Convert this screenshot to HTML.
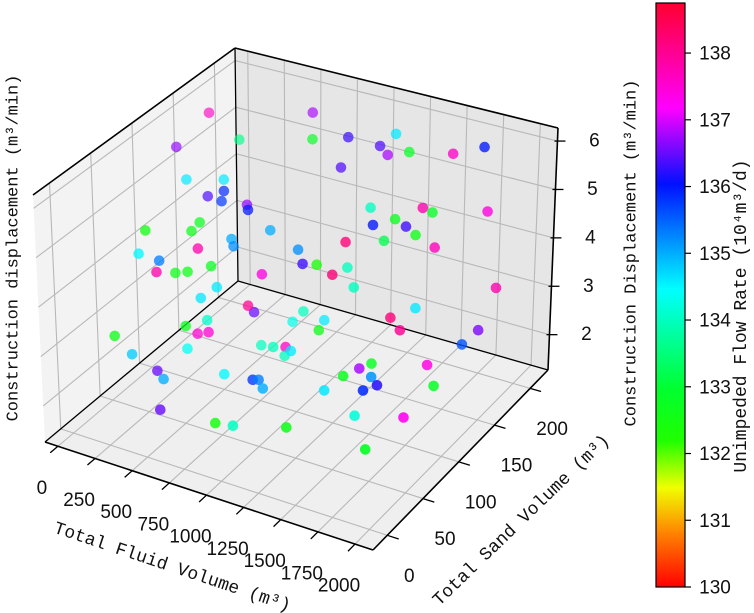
<!DOCTYPE html>
<html><head><meta charset="utf-8">
<style>
html,body{margin:0;padding:0;background:#fff;}
#wrap{width:754px;height:613px;position:relative;overflow:hidden;}
svg text{font-family:"Liberation Sans",sans-serif;}
.mono{font-family:"Liberation Mono",monospace !important;}
</style></head>
<body>
<div id="wrap">
<svg id="chart" width="754" height="613" viewBox="0 0 754 613">
<defs>
<linearGradient id="cbgrad" x1="0" y1="1" x2="0" y2="0">
<stop offset="0" stop-color="#ff0000"/>
<stop offset="0.09" stop-color="#ff8000"/>
<stop offset="0.17" stop-color="#f0ff00"/>
<stop offset="0.25" stop-color="#20ff00"/>
<stop offset="0.34" stop-color="#00ff30"/>
<stop offset="0.51" stop-color="#00ffff"/>
<stop offset="0.69" stop-color="#0010ff"/>
<stop offset="0.82" stop-color="#ff00ff"/>
<stop offset="1" stop-color="#ff0030"/>
</linearGradient>
</defs>
<g id="panes"></g><g id="grid"></g><g id="edges"></g><g id="ticks"></g><g id="points"></g><g id="labels"></g><g id="cbar"></g>
</svg>
</div>
<script>
// ---- data ----
const fluidVolume = [63,620,266,699,915,94,957,213,306,333,317,355,500,533,1258,379,264,377,721,1317,242,456,1220,549,589,935,324,304,366,410,478,1028,1061,1229,1207,1313,752,514,469,591,567,774,509,427,306,452,699,856,1013,145,615,761,783,946,840,370,193,291,403,684,814,918,946,1481,1498,1432,1364,1567,505,1562,1662,876,995,1295,1631,1869,1827,1187,1105,1194,1304,1576,1752,1525,1591,1845,1399,1474,1540,1392,1651,1918,1503,1569,1547,1863,1812,1759,1865];
const sandVolume = [166,193,166,178,183,120,166,110,139,134,117,127,132,127,147,95,49,85,120,139,44,78,122,103,98,115,54,54,66,73,90,103,115,103,127,115,103,90,78,115,127,152,78,66,103,90,152,164,127,29,127,115,127,103,115,78,41,54,41,66,78,66,66,90,103,78,66,78,17,90,78,17,17,29,54,73,29,193,188,181,188,193,200,164,164,188,152,152,152,139,156,188,127,127,152,176,164,127,115];
const displacement = [5.77,5.87,5.37,5.57,5.72,5.67,5.35,5.22,4.92,4.77,4.87,4.67,4.65,4.64,5.02,4.67,5.0,4.62,4.47,4.82,4.57,4.42,4.62,4.37,4.32,4.32,4.37,4.12,4.0,3.97,3.92,4.27,4.12,4.22,4.02,3.87,3.82,3.52,3.42,2.87,2.55,2.4,3.0,2.97,2.2,2.54,2.12,2.12,2.57,3.0,1.91,2.17,2.02,2.42,2.06,2.29,2.51,2.09,2.2,2.22,2.06,2.32,2.17,2.72,2.65,2.69,2.51,2.52,2.0,2.62,2.71,2.08,2.14,2.22,2.41,2.32,2.27,5.87,5.62,5.6,5.65,5.76,5.94,5.0,4.96,4.85,4.83,4.74,4.62,4.56,4.4,3.34,3.25,3.05,3.13,2.6,2.44,2.51,2.35];
const flowRate = [137.6,136.8,133.6,132.8,136.3,136.7,136.4,134.6,134.6,135.9,136.4,135.8,136.7,136.0,134.0,132.7,132.5,132.6,135.0,136.0,134.5,137.8,138.2,135.0,135.2,135.2,135.3,137.8,132.6,132.6,132.7,136.3,132.3,138.2,134.0,134.0,137.4,134.6,134.6,138.0,136.5,134.0,134.1,132.7,137.5,137.5,134.3,134.6,132.6,132.6,134.0,134.0,137.6,134.6,134.0,134.4,134.8,136.5,135.0,134.5,135.8,135.3,135.0,136.8,132.8,132.7,134.6,135.9,136.5,135.2,136.2,132.4,134.0,132.6,134.2,137.3,132.8,134.6,136.4,136.8,132.8,137.6,136.0,137.8,132.8,137.4,132.7,136.3,132.6,133.2,137.7,137.8,138.2,138.0,134.6,136.6,135.6,137.4,132.8];
const fluidTicks = [0,250,500,750,1000,1250,1500,1750,2000];
const sandTicks = [0,50,100,150,200];
const zTicks = [2,3,4,5,6];
const cbTicks = [130,131,132,133,134,135,136,137,138];

// ---- axes ----
const FL=[-87,2121], SD=[-20,225], ZR=[1.27,6.27], CR=[130,138.75];
const uOf=f=>(f-FL[0])/(FL[1]-FL[0]);
const vOf=s=>(s-SD[0])/(SD[1]-SD[0]);
const wOf=z=>(z-ZR[0])/(ZR[1]-ZR[0]);
const F={a:[45,442],d:[373,550],b:[238,281],c:[548,370]};
const H={a:[-12,-247],d:[2,-258],b:[-3,-233],c:[10,-242]};
function bil(o,u,v,i){return o.a[i]*(1-u)*(1-v)+o.d[i]*u*(1-v)+o.b[i]*(1-u)*v+o.c[i]*u*v;}
function proj(u,v,w){return [bil(F,u,v,0)+w*bil(H,u,v,0), bil(F,u,v,1)+w*bil(H,u,v,1)];}
function P(f,s,z){return proj(uOf(f),vOf(s),wOf(z));}
const cbY=c=>587-(c-CR[0])/(CR[1]-CR[0])*584;

const stops=[[0,[255,0,0]],[0.09,[255,128,0]],[0.17,[240,255,0]],[0.25,[32,255,0]],[0.34,[0,255,48]],[0.51,[0,255,255]],[0.69,[0,16,255]],[0.82,[255,0,255]],[1,[255,0,48]]];
function cmap(c){let t=(c-CR[0])/(CR[1]-CR[0]);t=Math.max(0,Math.min(1,t));
 for(let i=1;i<stops.length;i++){if(t<=stops[i][0]){const a=stops[i-1],b=stops[i];const k=(t-a[0])/(b[0]-a[0]);
 return 'rgb('+a[1].map((x,j)=>Math.round(x+(b[1][j]-x)*k)).join(',')+')';}}return 'rgb(255,0,48)';}

const NS='http://www.w3.org/2000/svg';
function mk(tag,attrs,parent){const e=document.createElementNS(NS,tag);for(const k in attrs)e.setAttribute(k,attrs[k]);document.getElementById(parent).appendChild(e);return e;}
const pts=a=>a.map(p=>p[0].toFixed(1)+','+p[1].toFixed(1)).join(' ');

// panes
let e;
e=mk('polygon',{points:pts([proj(0,0,0),proj(1,0,0),proj(1,1,0),proj(0,1,0)]),fill:'#efefef'},'panes');


e=mk('polygon',{points:pts([proj(0,0,0),proj(0,1,0),proj(0,1,1),proj(0,0,1)]),fill:'#f3f3f3'},'panes');


e=mk('polygon',{points:pts([proj(0,1,0),proj(1,1,0),proj(1,1,1),proj(0,1,1)]),fill:'#e6e6e6'},'panes');



// grid
const gs={stroke:'#b8b8b8','stroke-width':1.1,fill:'none'};
function gl(p,q,name){const l=mk('line',Object.assign({x1:p[0],y1:p[1],x2:q[0],y2:q[1]},gs),'grid');
 
 }
fluidTicks.forEach(f=>{const u=uOf(f);gl(proj(u,0,0),proj(u,1,0),'grid-fluid-floor');gl(proj(u,1,0),proj(u,1,1),'grid-fluid-back');});
sandTicks.forEach(s=>{const v=vOf(s);gl(proj(0,v,0),proj(1,v,0),'grid-sand-floor');gl(proj(0,v,0),proj(0,v,1),'grid-sand-left');});
zTicks.forEach(z=>{const w=wOf(z);gl(proj(0,0,w),proj(0,1,w),'grid-z-left');gl(proj(0,1,w),proj(1,1,w),'grid-z-back');});

// edges
function ed(p,q,name,wd){const l=mk('line',{x1:p[0],y1:p[1],x2:q[0],y2:q[1],stroke:'#000','stroke-width':wd||1.6},'edges');
 
 }
ed(proj(0,0,0),proj(1,0,0),'fluid-axis-line');
ed(proj(1,0,0),proj(1,1,0),'sand-axis-line');
ed(proj(1,1,0),proj(1,1,1),'z-axis-line');
ed(proj(0,0,0),proj(0,1,0),'left-floor-edge',1.3);
ed(proj(0,1,0),proj(1,1,0),'back-floor-edge',1.3);
ed(proj(0,1,0),proj(0,1,1),'inner-vertical-edge',1.3);
ed(proj(0,0,1),proj(0,1,1),'left-top-edge',1.6);
ed(proj(0,1,1),proj(1,1,1),'back-top-edge',1.6);

// ticks & labels
function txt(x,y,s,parent,name,extra){const t=mk('text',Object.assign({x:x,y:y,'text-anchor':'middle','dominant-baseline':'central','font-size':19,fill:'#111'},extra||{}),parent);t.textContent=s;
 
 return t;}
fluidTicks.forEach(f=>{const p=proj(uOf(f),0,0),q=proj(uOf(f),-0.04,0);
 const l=mk('line',{x1:p[0],y1:p[1],x2:q[0],y2:q[1],stroke:'#000','stroke-width':1.3},'ticks');
 
 
 txt(p[0]-16,p[1]+42,String(f),'labels','fluid-tick-label');});
sandTicks.forEach(s=>{const p=proj(1,vOf(s),0),q=proj(1.035,vOf(s),0);
 const l=mk('line',{x1:p[0],y1:p[1],x2:q[0],y2:q[1],stroke:'#000','stroke-width':1.3},'ticks');
 
 
 txt(p[0]+22,p[1]+41,String(s),'labels','sand-tick-label');});
zTicks.forEach(z=>{const p=proj(1,1,wOf(z));
 const l=mk('line',{x1:p[0]-3,y1:p[1],x2:p[0]+8,y2:p[1],stroke:'#000','stroke-width':1.3},'ticks');
 
 
 txt(p[0]+37,p[1],String(z),'labels','z-tick-label');});

// points (far first)
const order=fluidVolume.map((f,i)=>i).sort((i,j)=>{const di=vOf(sandVolume[i])+(1-uOf(fluidVolume[i])),dj=vOf(sandVolume[j])+(1-uOf(fluidVolume[j]));return dj-di;});
order.forEach(i=>{const p=P(fluidVolume[i],sandVolume[i],displacement[i]);
 const d=(vOf(sandVolume[i])+(1-uOf(fluidVolume[i])))/2;
 const c=mk('circle',{cx:p[0].toFixed(1),cy:p[1].toFixed(1),r:5.3,fill:cmap(flowRate[i]),'fill-opacity':(0.98-0.4*d).toFixed(2)},'points');
 
 });

// axis titles
txt(172,568,'Total Fluid Volume (m³)','labels','fluid-axis-title',{'font-size':18,transform:'rotate(18.5 172 568)',class:'mono'});
txt(522,521,'Total Sand Volume (m³)','labels','sand-axis-title',{'font-size':18,transform:'rotate(-44 522 521)',class:'mono'});
txt(14,248,'Construction displacement (m³/min)','labels','z-axis-title-left',{'font-size':17,transform:'rotate(-90 14 248)',class:'mono'});
txt(632,253,'Construction Displacement (m³/min)','labels','z-axis-title-right',{'font-size':17,transform:'rotate(-90 632 253)',class:'mono'});

// colorbar
e=mk('rect',{x:656,y:3,width:29,height:584,fill:'url(#cbgrad)',stroke:'#000','stroke-width':1.2},'cbar');


cbTicks.forEach(c=>{const y=cbY(c);
 const l=mk('line',{x1:685,y1:y,x2:691,y2:y,stroke:'#000','stroke-width':1.2},'cbar');
 
 
 txt(715,y+1,String(c),'cbar','colorbar-tick-label');});
txt(742,316,'Unimpeded Flow Rate (10⁴m³/d)','cbar','colorbar-title',{'font-size':18,transform:'rotate(-90 742 316)',class:'mono'});
</script>
</body></html>
